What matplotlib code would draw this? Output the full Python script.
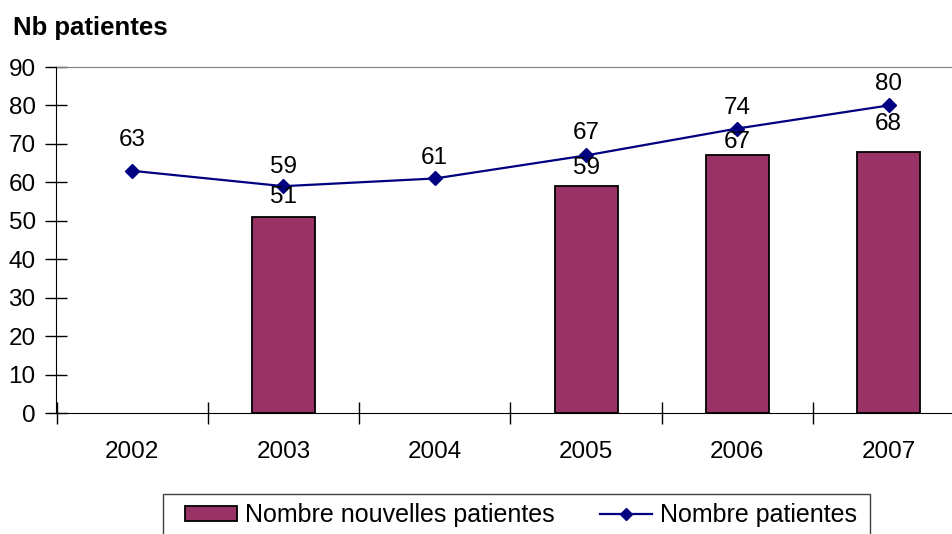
import numpy as np
import matplotlib
matplotlib.use("Agg")
import matplotlib.pyplot as plt
from matplotlib.lines import Line2D
from matplotlib.patches import Patch, Rectangle

years = ["2002", "2003", "2004", "2005", "2006", "2007"]
nouvelles = [np.nan, 51, np.nan, 59, 67, 68]
patientes = [63, 59, 61, 67, 74, 80]
yticks = [0, 10, 20, 30, 40, 50, 60, 70, 80, 90]

plt.rcParams['font.family'] = ['Liberation Sans', 'DejaVu Sans']

W, H = 953, 534
left_px = 56.5
fig = plt.figure(figsize=(W / 100, H / 100), dpi=100)
ax = fig.add_axes([left_px / W, 1 - 413 / H, 1 - left_px / W, (413 - 67) / H])

x = np.arange(len(years))
bar_color = "#993366"
line_color = "#000080"

ax.bar(x, nouvelles, width=0.416, color=bar_color, edgecolor="black", linewidth=1.3, zorder=2)
ax.plot(x, patientes, color=line_color, linewidth=1.6, marker="D", markersize=7.5, zorder=3)

fs = 17.5
bar_off = [0, 20, 0, 18, 13, 28]
line_off = [31, 19, 20, 22, 21, 21]
for i, v in enumerate(nouvelles):
    if not np.isnan(v):
        ax.annotate(f"{int(v)}", (x[i], v), xytext=(0, bar_off[i]), textcoords="offset pixels",
                    ha="center", va="center", fontsize=fs, zorder=4)
for i, v in enumerate(patientes):
    ax.annotate(f"{int(v)}", (x[i], v), xytext=(0, line_off[i]), textcoords="offset pixels",
                ha="center", va="center", fontsize=fs, zorder=4)

ax.set_yticks(yticks)
ax.set_yticklabels([str(t) for t in yticks], fontsize=fs)
ax.set_xticks(x)
ax.set_xticklabels(years, fontsize=fs)
ax.set_xticks(np.arange(-0.5, 5, 1), minor=True)
ax.set_xlim(-0.5, -0.5 + (W - left_px) / 151.3)
ax.set_ylim(0, 90)
ax.tick_params(axis="x", which="major", length=0, pad=20)
ax.tick_params(axis="x", which="minor", length=16, direction="inout", width=1)
ax.tick_params(axis="y", length=16, direction="inout", width=1, pad=7)

ax.spines["right"].set_visible(False)
ax.spines["top"].set_color("#808080")

fig.text(13 / W, 1 - 28 / H, "Nb patientes", fontsize=18.5, fontweight="bold", va="center", ha="left")

fig.patches.append(Rectangle((163 / W, -0.02), (870 - 163) / W, (534 - 494) / H + 0.02,
                             transform=fig.transFigure, fill=False, edgecolor="#404040",
                             linewidth=1, zorder=5))

handles = [Patch(facecolor=bar_color, edgecolor="black", linewidth=1.3, label="Nombre nouvelles patientes"),
           Line2D([0], [0], color=line_color, marker="D", markersize=6.5, linewidth=1.6, label="Nombre patientes")]
leg = fig.legend(handles=handles, loc="center left", bbox_to_anchor=(185 / W, 1 - 515 / H), ncol=2,
                 fontsize=18, frameon=False, borderpad=0, borderaxespad=0,
                 handlelength=2.08, handleheight=0.56, columnspacing=1.8, handletextpad=0.32)

fig.savefig("out.png", dpi=100)
